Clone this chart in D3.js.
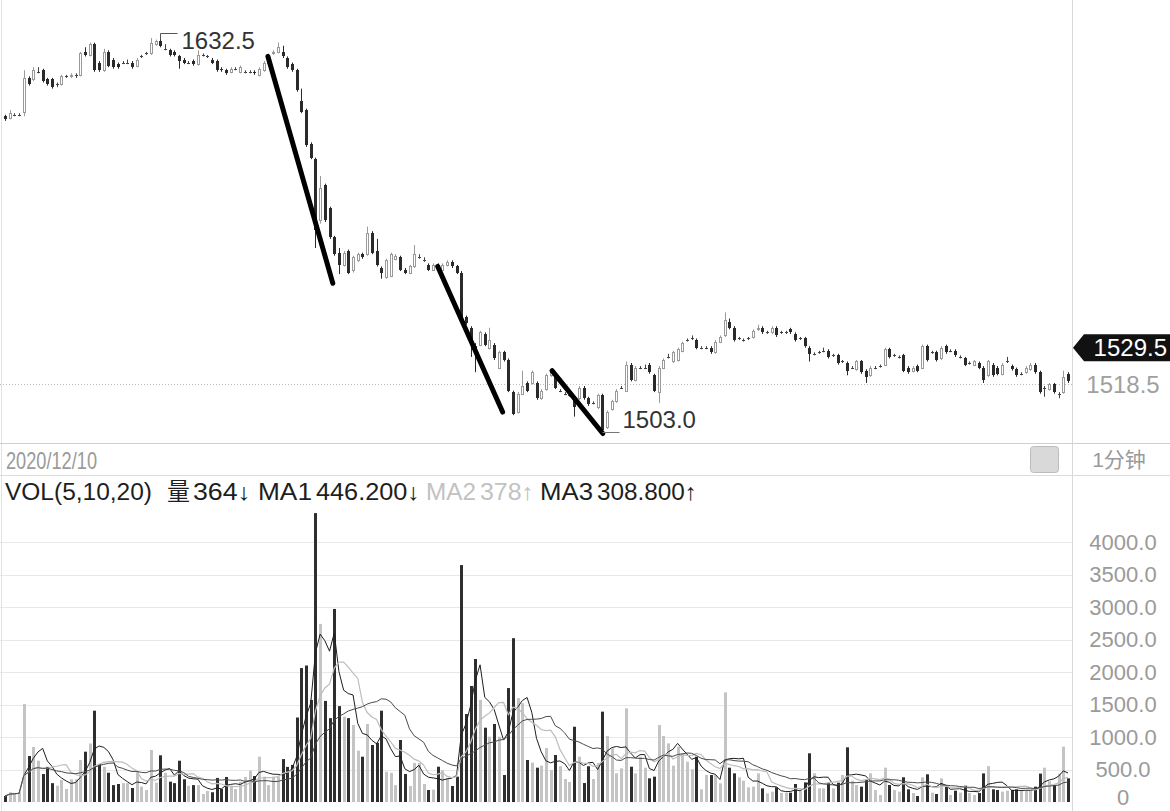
<!DOCTYPE html>
<html>
<head>
<meta charset="utf-8">
<script src="https://cdn.jsdelivr.net/npm/d3@7/dist/d3.min.js"></script>
<style>
  body { margin: 0; background: #fff; }
  svg { display: block; font-family: "Liberation Sans", Arial, "Noto Sans CJK SC", sans-serif; }
</style>
</head>
<body>
<svg id="chart" width="1170" height="811"></svg>
<script>
// 1-minute bars, session of 2020/12/10
var opens = [
  1606, 1605.5, 1606.5, 1606.5, 1607.5, 1618.5, 1618, 1620.5, 1621, 1618,
  1618, 1616.5, 1616.5, 1619, 1619, 1619.5, 1619.5, 1627, 1626, 1629.5,
  1623.5, 1621, 1627, 1624.5, 1623, 1623.5, 1623.5, 1623.5, 1622.5, 1625.5,
  1626.5, 1626.5, 1629.5, 1630.5, 1628, 1627.5, 1627, 1625.5, 1624.5, 1623.5,
  1624, 1623, 1626, 1625.5, 1624.5, 1624, 1621.5, 1621, 1620.5, 1621.5,
  1620.5, 1620.5, 1620.5, 1620.5, 1619.5, 1621, 1623.5, 1626.5, 1627, 1627,
  1625, 1623, 1621, 1611, 1608, 1597, 1592, 1572, 1583.5, 1576,
  1566.5, 1561.5, 1557.5, 1562, 1556, 1559, 1561, 1561, 1568, 1562,
  1556.5, 1553.5, 1554, 1559.5, 1560, 1556, 1555, 1557, 1560, 1559,
  1557.5, 1556, 1557.5, 1556, 1557.5, 1558.5, 1557, 1555, 1540.5, 1537,
  1531, 1531.5, 1535, 1530.5, 1531.5, 1524, 1529, 1526.5, 1516, 1509.5,
  1515.5, 1519, 1519, 1519, 1514, 1517, 1521.5, 1521.5, 1516.5, 1515.5,
  1515, 1514.5, 1514, 1517.5, 1514, 1512.5, 1511, 1515, 1504.5, 1510.5,
  1513, 1517.5, 1516.5, 1525, 1520, 1524, 1524, 1525, 1521.5, 1516,
  1524, 1527.5, 1526, 1526.5, 1529.5, 1533, 1533.5, 1533, 1530.5, 1530.5,
  1530.5, 1529, 1532.5, 1534.5, 1539, 1537, 1533.5, 1533, 1533.5, 1534,
  1536.5, 1537, 1535.5, 1535.5, 1537, 1535.5, 1535.5, 1536.5, 1535, 1533.5,
  1533.5, 1530.5, 1528.5, 1529, 1529.5, 1529.5, 1528, 1528, 1526, 1525.5,
  1524, 1523.5, 1526, 1523, 1521.5, 1524, 1524.5, 1525, 1530, 1528,
  1527.5, 1528, 1524, 1523, 1524.5, 1524, 1531, 1529, 1529, 1527,
  1531, 1529.5, 1529.5, 1527.5, 1527, 1525.5, 1525, 1525.5, 1524, 1521.5,
  1525, 1524, 1522, 1526, 1524.5, 1523.5, 1522, 1522.5, 1523.5, 1525,
  1522.5, 1517.5, 1517, 1518.5, 1515.5, 1516, 1522
];
var highs = [
  1606.5, 1608, 1607, 1607, 1621, 1619, 1622, 1622, 1621.5, 1618.5,
  1618.5, 1617, 1619.5, 1619.5, 1620, 1620, 1627, 1628.5, 1630, 1630,
  1624, 1628, 1627.5, 1625, 1623.5, 1624, 1624.5, 1624, 1625, 1626,
  1627, 1631.5, 1631, 1632.5, 1629.5, 1628, 1627.5, 1626, 1625, 1624,
  1624.5, 1627.5, 1626.5, 1626, 1625, 1624.5, 1622, 1621.5, 1622, 1622,
  1622.5, 1621, 1621, 1621, 1622, 1624, 1626.5, 1627.5, 1630, 1629,
  1625.5, 1623.5, 1621.5, 1615, 1608.5, 1597.5, 1592.5, 1586.5, 1584, 1576.5,
  1567, 1563, 1562, 1562.5, 1560.5, 1561.5, 1561.5, 1570, 1568.5, 1566,
  1557, 1559.5, 1561.5, 1561, 1560.5, 1556.5, 1557.5, 1564, 1561, 1560,
  1558, 1558, 1558, 1558, 1559, 1559, 1557.5, 1555.5, 1541, 1537.5,
  1532, 1536, 1535.5, 1537, 1532, 1529.5, 1529.5, 1527, 1516.5, 1516,
  1523, 1519.5, 1523, 1519.5, 1517, 1522, 1523, 1522, 1517, 1516,
  1515.5, 1515, 1518, 1518, 1514.5, 1513, 1515.5, 1515.5, 1510, 1513.5,
  1517, 1518, 1526, 1525.5, 1524.5, 1524.5, 1525, 1525.5, 1522, 1524.5,
  1527, 1528.5, 1529.5, 1530.5, 1532.5, 1533.5, 1534.5, 1533.5, 1531, 1531,
  1531, 1533, 1534.5, 1542, 1540, 1537.5, 1534, 1533.5, 1534, 1536.5,
  1538, 1537.5, 1536, 1537.5, 1537.5, 1536, 1536, 1537, 1535.5, 1534,
  1534, 1531, 1529, 1529.5, 1530.5, 1530, 1528.5, 1528.5, 1526.5, 1526,
  1524.5, 1526.5, 1526.5, 1523.5, 1524.5, 1524.5, 1525, 1530.5, 1530.5, 1528.5,
  1528, 1528.5, 1524.5, 1524.5, 1525, 1531.5, 1531.5, 1529.5, 1529.5, 1531,
  1531.5, 1530, 1530, 1528, 1527.5, 1526, 1526.5, 1526, 1524.5, 1526.5,
  1525.5, 1524.5, 1525.5, 1527.5, 1525, 1524, 1522.5, 1524.5, 1525.5, 1525.5,
  1523, 1518, 1519, 1519, 1516, 1523, 1522.5
];
var lows = [
  1604.5, 1605, 1606, 1606, 1606, 1616, 1617.5, 1620, 1617, 1616,
  1615, 1615.5, 1616, 1618.5, 1618.5, 1618.5, 1619, 1625.5, 1625.5, 1620.5,
  1620.5, 1620.5, 1622, 1621.5, 1621.5, 1623, 1623, 1621.5, 1622, 1625,
  1626, 1626, 1629, 1628.5, 1627.5, 1625.5, 1625.5, 1621.5, 1623, 1623,
  1622.5, 1622.5, 1625.5, 1625, 1623, 1620.5, 1620.5, 1619.5, 1620, 1621,
  1620, 1620, 1620, 1619.5, 1619, 1620.5, 1623, 1626, 1626.5, 1625,
  1621.5, 1620.5, 1614, 1607, 1596, 1592, 1563, 1571, 1571.5, 1566,
  1560.5, 1554.5, 1557, 1554.5, 1555, 1558.5, 1559.5, 1560.5, 1561, 1557,
  1553, 1553, 1553.5, 1559, 1555.5, 1554.5, 1554.5, 1556.5, 1559.5, 1558.5,
  1555.5, 1555.5, 1555, 1555.5, 1557, 1556.5, 1554.5, 1540, 1538, 1527.5,
  1522.5, 1531, 1531, 1530, 1526.5, 1523.5, 1526, 1516, 1508.5, 1509,
  1515, 1516, 1518.5, 1513.5, 1513.5, 1516.5, 1521, 1517, 1516, 1515,
  1514.5, 1508, 1513.5, 1513.5, 1511.5, 1512, 1510.5, 1503, 1504, 1510,
  1512.5, 1517, 1516, 1519.5, 1519.5, 1523.5, 1523.5, 1522, 1516, 1512.5,
  1523.5, 1527, 1525.5, 1526, 1529, 1532.5, 1533, 1530, 1530, 1530,
  1528.5, 1528.5, 1532, 1534, 1536.5, 1532.5, 1533, 1532.5, 1533, 1533.5,
  1536, 1535, 1535, 1535, 1534, 1535, 1535, 1535, 1532.5, 1533,
  1530.5, 1526, 1528, 1528.5, 1529, 1527, 1527.5, 1525, 1525.5, 1521.5,
  1523.5, 1523, 1522, 1519, 1521, 1523.5, 1524, 1524.5, 1527, 1527.5,
  1527, 1522.5, 1522, 1522.5, 1522.5, 1523.5, 1526, 1528.5, 1526, 1526.5,
  1528.5, 1529, 1527.5, 1527, 1524.5, 1525, 1524.5, 1523.5, 1519, 1521,
  1521, 1521.5, 1521.5, 1525.5, 1523, 1521, 1521.5, 1522, 1523, 1522,
  1515.5, 1514.5, 1516.5, 1515.5, 1514, 1515.5, 1519
];
var closes = [
  1605, 1607, 1606.5, 1606.5, 1618.5, 1616.5, 1621, 1620.5, 1617.5, 1616.5,
  1615.5, 1616.5, 1619, 1619, 1619.5, 1619.5, 1626.5, 1626, 1629.5, 1621,
  1621, 1627, 1622.5, 1622, 1622, 1623.5, 1623.5, 1622, 1624.5, 1625.5,
  1626.5, 1630, 1630.5, 1629, 1628, 1626, 1626, 1624, 1623.5, 1623.5,
  1623, 1626, 1626, 1625.5, 1623.5, 1621, 1621, 1620, 1621.5, 1621.5,
  1622, 1620.5, 1620.5, 1620, 1621.5, 1623.5, 1626, 1627, 1628.5, 1625.5,
  1622, 1621, 1614.5, 1607.5, 1596.5, 1592.5, 1569, 1582.5, 1572, 1566.5,
  1561, 1557.5, 1561.5, 1555, 1560, 1561, 1560, 1568, 1561.5, 1557.5,
  1555, 1559, 1561, 1560.5, 1556, 1555, 1557, 1561, 1560, 1559,
  1556, 1557.5, 1555.5, 1557.5, 1558.5, 1557, 1555, 1540.5, 1538.5, 1532.5,
  1529.5, 1535.5, 1531.5, 1533, 1527, 1529, 1526.5, 1516.5, 1509, 1515.5,
  1518, 1516.5, 1522.5, 1514, 1516.5, 1521.5, 1522.5, 1517.5, 1516.5, 1515.5,
  1515, 1511, 1517.5, 1514, 1512, 1512.5, 1515, 1503.5, 1509.5, 1513,
  1516.5, 1517.5, 1525, 1520, 1524, 1524, 1524, 1522.5, 1516.5, 1524,
  1526.5, 1527.5, 1529, 1530, 1532, 1533, 1533.5, 1530.5, 1530.5, 1530.5,
  1529, 1532.5, 1534, 1539.5, 1537, 1533, 1533.5, 1533, 1533.5, 1536,
  1537, 1535.5, 1535.5, 1537, 1534.5, 1535.5, 1535.5, 1535.5, 1533, 1533.5,
  1531, 1528.5, 1528.5, 1529, 1529.5, 1527.5, 1528, 1525.5, 1526, 1523,
  1524, 1526, 1522.5, 1521, 1524, 1524, 1524.5, 1530, 1527.5, 1528,
  1527.5, 1523, 1522.5, 1524, 1523, 1531, 1526.5, 1529, 1526.5, 1530.5,
  1529, 1529.5, 1528, 1527.5, 1525, 1525.5, 1526, 1524, 1520, 1526,
  1521.5, 1522, 1525, 1526, 1523.5, 1521.5, 1522, 1524, 1525, 1522.5,
  1516, 1517.5, 1518.5, 1516, 1515.5, 1521, 1519.5
];
var volumes = [
  92, 150, 140, 150, 1507, 708, 846, 635, 430, 540,
  290, 250, 340, 200, 350, 350, 646, 774, 900, 1405,
  585, 540, 450, 260, 277, 290, 290, 215, 466, 236,
  185, 800, 297, 718, 450, 313, 290, 635, 350, 250,
  260, 260, 123, 170, 150, 370, 200, 385, 250, 200,
  313, 385, 482, 400, 697, 390, 260, 390, 390, 660,
  540, 570, 1300, 2060, 2100, 1570, 4445, 2740, 1555, 1290,
  2970, 1475, 1312, 1290, 1185, 790, 697, 1200, 877, 910,
  1405, 466, 450, 260, 954, 430, 246, 600, 600, 277,
  185, 190, 543, 490, 370, 246, 390, 3645, 1353, 1785,
  2200, 1570, 1143, 1005, 1200, 1005, 415, 1753, 2520, 1600,
  1520, 646, 605, 528, 560, 830, 490, 723, 550, 354,
  308, 1158, 697, 292, 550, 354, 600, 1390, 1015, 826,
  441, 518, 1441, 543, 441, 697, 528, 364, 390, 1184,
  1015, 902, 559, 851, 749, 620, 503, 697, 195, 415,
  415, 415, 287, 1687, 528, 441, 380, 328, 226, 236,
  441, 210, 133, 159, 226, 138, 144, 144, 277, 174,
  302, 749, 441, 210, 210, 297, 210, 297, 415, 841,
  328, 261, 236, 338, 441, 185, 108, 528, 261, 185,
  159, 380, 195, 138, 92, 380, 426, 144, 123, 364,
  236, 108, 174, 144, 251, 138, 108, 138, 440, 551,
  195, 185, 159, 174, 185, 195, 174, 174, 174, 236,
  437, 528, 320, 260, 436, 851, 364
];

var volTicks = [0, 500, 1000, 1500, 2000, 2500, 3000, 3500, 4000];
var maPeriods = [5, 10, 20];
var maColors = ["#1e1e1e", "#bdbdbd", "#4a4a4a"];
var prevSettle = 1518.5;
var lastTag = 1529.5;
// hand-drawn trend strokes: [startIndex, startPrice, endIndex, endPrice]
var trendLines = [
  [55.9, 1625.5, 69.7, 1551.5],
  [92.0, 1557.0, 105.8, 1509.5],
  [116.3, 1523.0, 127.1, 1502.5]
];

var W = 1170, H = 811;
var plotRight = 1072;
var N = closes.length;
var svg = d3.select("#chart");

var x = d3.scaleLinear().domain([0, N - 1]).range([5, 1068]);
var y = d3.scaleLinear()
  .domain([d3.min(lows), d3.max(highs)])
  .range([432, 35]);
var yv = d3.scaleLinear().domain([0, 4000]).range([802, 542]);

var bars = d3.range(N).map(i => ({
  i: i, o: opens[i], h: highs[i], l: lows[i], c: closes[i], v: volumes[i],
  up: closes[i] >= opens[i]
}));

// frame lines
svg.append("line").attr("x1", 1.5).attr("x2", 1.5).attr("y1", 0).attr("y2", H).attr("stroke", "#e2e2e2");
svg.append("line").attr("x1", plotRight + 0.5).attr("x2", plotRight + 0.5).attr("y1", 0).attr("y2", H).attr("stroke", "#d8d8d8");
svg.append("line").attr("x1", 0).attr("x2", W).attr("y1", 443.5).attr("y2", 443.5).attr("stroke", "#cfcfcf");
svg.append("line").attr("x1", 0).attr("x2", W).attr("y1", 475.5).attr("y2", 475.5).attr("stroke", "#dcdcdc");

// previous settle dotted line
svg.append("line")
  .attr("x1", 0).attr("x2", plotRight)
  .attr("y1", Math.round(y(prevSettle)) + 0.5).attr("y2", Math.round(y(prevSettle)) + 0.5)
  .attr("stroke", "#bdbdbd").attr("stroke-dasharray", "1,2");

// candles
var cg = svg.append("g").attr("class", "candles");
bars.forEach(d => {
  var xc = Math.round(x(d.i));
  var col = d.o === d.c ? "#444" : (d.up ? "#9a9a9a" : "#2a2a2a");
  cg.append("line")
    .attr("x1", xc + 0.5).attr("x2", xc + 0.5)
    .attr("y1", y(d.h)).attr("y2", y(d.l))
    .attr("stroke", col);
  if (d.o === d.c) {
    cg.append("line")
      .attr("x1", xc - 1).attr("x2", xc + 2)
      .attr("y1", Math.round(y(d.c)) + 0.5).attr("y2", Math.round(y(d.c)) + 0.5)
      .attr("stroke", col);
  } else if (d.up) {
    var top = Math.round(y(d.c)), bot = Math.round(y(d.o));
    cg.append("rect")
      .attr("x", xc - 0.5).attr("y", top + 0.5)
      .attr("width", 2).attr("height", Math.max(bot - top, 1))
      .attr("fill", "#fff").attr("stroke", col);
  } else {
    var top2 = Math.round(y(d.o)), bot2 = Math.round(y(d.c));
    cg.append("rect")
      .attr("x", xc - 1).attr("y", top2)
      .attr("width", 3).attr("height", Math.max(bot2 - top2, 1))
      .attr("fill", col);
  }
});

// trend strokes
svg.append("g").selectAll("line").data(trendLines).join("line")
  .attr("x1", d => x(d[0])).attr("y1", d => y(d[1]))
  .attr("x2", d => x(d[2])).attr("y2", d => y(d[3]))
  .attr("stroke", "#000").attr("stroke-width", 5).attr("stroke-linecap", "round");

// high / low markers
var hiIdx = d3.maxIndex(highs), loIdx = d3.minIndex(lows);
var hx = Math.round(x(hiIdx)) + 0.5, hy = Math.round(y(highs[hiIdx])) - 1.5;
svg.append("path")
  .attr("d", "M" + hx + "," + (hy + 6) + "V" + hy + "H" + (hx + 17))
  .attr("fill", "none").attr("stroke", "#555");
svg.append("text").attr("x", hx + 21).attr("y", hy + 15)
  .attr("font-size", 24).attr("fill", "#333").text(highs[hiIdx].toFixed(1));
var lx = Math.round(x(loIdx)) + 0.5, ly = Math.round(y(lows[loIdx])) + 0.5;
svg.append("line").attr("x1", lx).attr("x2", lx + 17).attr("y1", ly).attr("y2", ly).attr("stroke", "#777");
svg.append("text").attr("x", lx + 20).attr("y", ly - 5)
  .attr("font-size", 24).attr("fill", "#333").text(lows[loIdx].toFixed(1));

// right price labels
var ty = y(lastTag) - 3;
svg.append("path")
  .attr("d", "M1073," + ty + "L1084," + (ty - 13.5) + "H1170V" + (ty + 13.5) + "H1084Z")
  .attr("fill", "#111");
svg.append("text").attr("x", 1167).attr("y", ty).attr("dy", "0.36em")
  .attr("text-anchor", "end").attr("font-size", 24).attr("fill", "#fff").text(lastTag.toFixed(1));
svg.append("text").attr("x", 1123).attr("y", y(prevSettle)).attr("dy", "0.36em")
  .attr("text-anchor", "middle").attr("font-size", 24).attr("fill", "#a0a0a0").text(prevSettle.toFixed(1));

// date bar
svg.append("text").attr("x", 6).attr("y", 469)
  .attr("font-size", 24).attr("fill", "#9a9a9a")
  .attr("textLength", 91).attr("lengthAdjust", "spacingAndGlyphs")
  .text("2020/12/10");
svg.append("rect").attr("x", 1030.5).attr("y", 446.5).attr("width", 28).attr("height", 26).attr("rx", 3)
  .attr("fill", "#d9d9d9").attr("stroke", "#bcbcbc");
svg.append("text").attr("x", 1119).attr("y", 459).attr("dy", "0.36em")
  .attr("text-anchor", "middle").attr("font-size", 21).attr("fill", "#9a9a9a").text("1分钟");

// volume grid + axis labels
svg.append("g").selectAll("line").data(volTicks.filter(t => t > 0)).join("line")
  .attr("x1", 0).attr("x2", plotRight)
  .attr("y1", d => Math.round(yv(d)) + 0.5).attr("y2", d => Math.round(yv(d)) + 0.5)
  .attr("stroke", "#e8e8e8");
svg.append("g").selectAll("text").data(volTicks).join("text")
  .attr("x", 1123).attr("y", d => d === 0 ? yv(d) - 5 : yv(d)).attr("dy", "0.36em")
  .attr("text-anchor", "middle").attr("font-size", 22).attr("fill", "#9a9a9a")
  .text(d => d === 0 ? "0" : d.toFixed(1));

// volume bars
svg.append("g").selectAll("rect").data(bars).join("rect")
  .attr("x", d => Math.round(x(d.i)) - 1)
  .attr("y", d => yv(d.v))
  .attr("width", 3)
  .attr("height", d => yv(0) - yv(d.v))
  .attr("fill", d => d.up ? "#c4c4c4" : "#2e2e2e");

// volume moving averages
function movingAvg(vals, n) {
  return vals.map((v, i) => d3.mean(vals.slice(Math.max(0, i - n + 1), i + 1)));
}
var maLine = d3.line().x((d, i) => x(i)).y(d => yv(d));
maPeriods.forEach((p, k) => {
  svg.append("path")
    .datum(movingAvg(volumes, p))
    .attr("d", maLine)
    .attr("fill", "none")
    .attr("stroke", maColors[k])
    .attr("stroke-width", k === 1 ? 1.2 : 1);
});
var maLast = maPeriods.map(p => d3.mean(volumes.slice(N - p)));

// indicator legend
var legend = [
  { t: "VOL(5,10,20)", x: 5, w: 147, c: "#1e1e1e" },
  { t: "量", x: 167, w: 23, c: "#1e1e1e" },
  { t: volumes[N - 1] + "↓", x: 193, w: 58, c: "#1e1e1e" },
  { t: "MA1", x: 258, w: 54, c: "#1e1e1e" },
  { t: maLast[0].toFixed(3) + "↓", x: 316, w: 104, c: "#1e1e1e" },
  { t: "MA2", x: 426, w: 50, c: "#c2c2c2" },
  { t: Math.round(maLast[1]) + "↑", x: 480, w: 54, c: "#c2c2c2" },
  { t: "MA3", x: 540, w: 53, c: "#1e1e1e" },
  { t: maLast[2].toFixed(3) + "↑", x: 597, w: 100, c: "#1e1e1e" }
];
svg.append("g").selectAll("text").data(legend).join("text")
  .attr("x", d => d.x).attr("y", 500)
  .attr("font-size", 23.5).attr("fill", d => d.c)
  .attr("textLength", d => d.w).attr("lengthAdjust", "spacingAndGlyphs")
  .text(d => d.t);
</script>
</body>
</html>
